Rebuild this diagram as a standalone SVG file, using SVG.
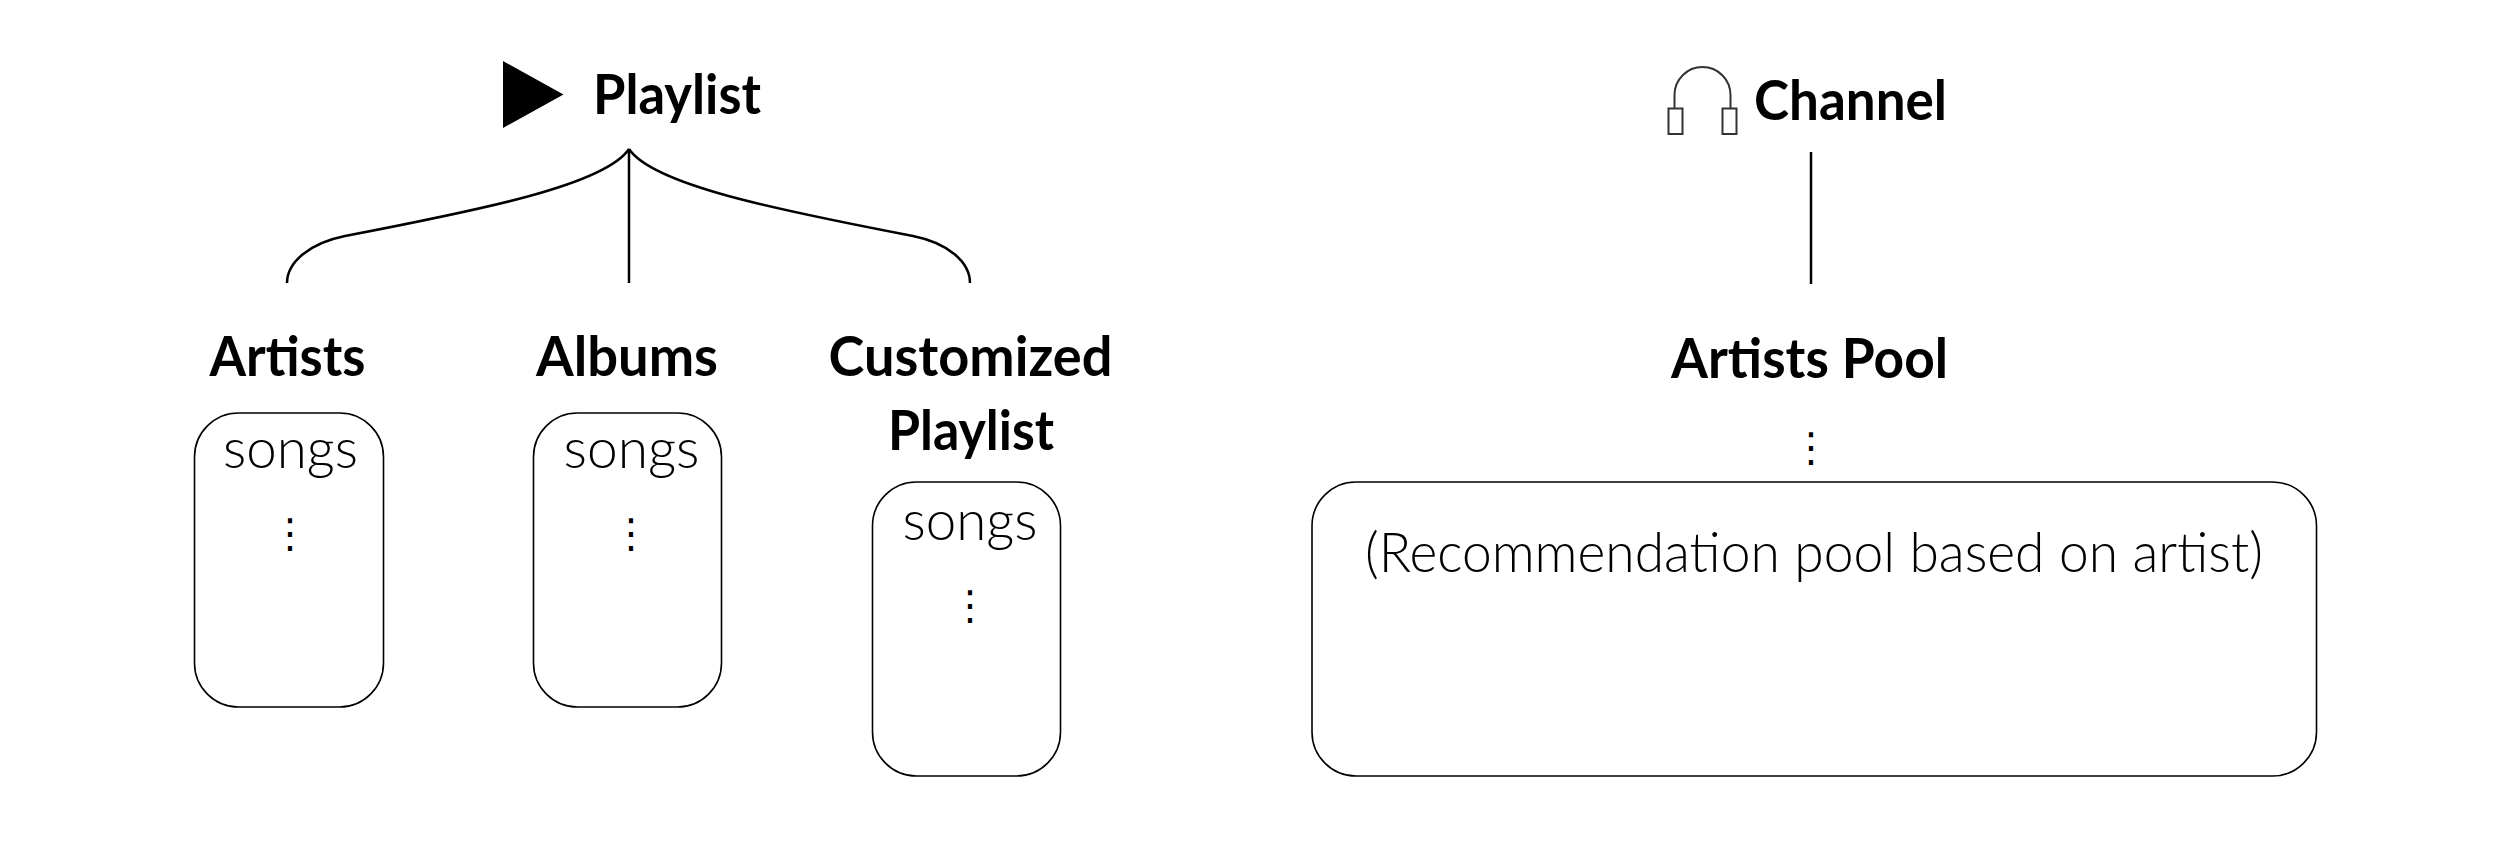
<svg xmlns="http://www.w3.org/2000/svg" width="2510" height="854" viewBox="0 0 2510 854">
<style>
text{fill:#000}
.h{font-family:"Lato","Liberation Sans",sans-serif;font-weight:700;font-size:55px}
.s{font-family:"Lato","Liberation Sans",sans-serif;font-weight:300;font-size:55px}
.d{font-family:"DejaVu Sans",sans-serif;font-size:40px;text-anchor:middle}
.b{fill:#fff;stroke:#000;stroke-width:1.6}
.c{fill:none;stroke:#000;stroke-width:2.500}
</style>
<rect width="2510" height="854" fill="#fff"/>
<g id="connectors">
<path class="c" d="M629 149C605 185 480 210 345 236C310 243 287 262 287 283"/>
<path class="c" d="M629 149V283"/>
<path class="c" d="M629 149C653 185 778 210 913 236C948 243 970 262 970 283"/>
<path class="c" d="M1811 152V284"/>
</g>
<g id="playlist">
<polygon points="503,61 563.500,94.500 503,128" fill="#000"/>
<text class="h" x="593" y="114" textLength="168" lengthAdjust="spacingAndGlyphs">Playlist</text>
</g>
<g id="channel">
<path d="M1674.500 108V95A28 28 0 0 1 1730.500 95V108" fill="none" stroke="#333" stroke-width="2"/>
<rect x="1668.500" y="108.500" width="14" height="25.500" fill="#fff" stroke="#333" stroke-width="2"/>
<rect x="1722.500" y="108.500" width="14" height="25.500" fill="#fff" stroke="#333" stroke-width="2"/>
<text class="h" x="1754" y="120" textLength="193" lengthAdjust="spacingAndGlyphs">Channel</text>
</g>
<g id="artists">
<text class="h" x="209.500" y="376" textLength="156" lengthAdjust="spacingAndGlyphs">Artists</text>
<rect class="b" x="194.500" y="413" width="189" height="294" rx="44" ry="44"/>
<text class="s" x="223" y="468" textLength="135" lengthAdjust="spacingAndGlyphs">songs</text>
<text class="d" x="290" y="547">⋮</text>
</g>
<g id="albums">
<text class="h" x="536" y="376" textLength="182" lengthAdjust="spacingAndGlyphs">Albums</text>
<rect class="b" x="533.500" y="413" width="188" height="294" rx="44" ry="44"/>
<text class="s" x="563.500" y="468" textLength="136" lengthAdjust="spacingAndGlyphs">songs</text>
<text class="d" x="631" y="547">⋮</text>
</g>
<g id="customized">
<text class="h" x="828.500" y="376" textLength="284" lengthAdjust="spacingAndGlyphs">Customized</text>
<text class="h" x="888" y="449.500" textLength="166" lengthAdjust="spacingAndGlyphs">Playlist</text>
<rect class="b" x="872.500" y="482" width="188" height="294" rx="44" ry="44"/>
<text class="s" x="902.500" y="540" textLength="135" lengthAdjust="spacingAndGlyphs">songs</text>
<text class="d" x="970" y="619">⋮</text>
</g>
<g id="artists-pool">
<text class="h" x="1671" y="378" textLength="277" lengthAdjust="spacingAndGlyphs">Artists Pool</text>
<text class="d" x="1811" y="461">⋮</text>
<rect class="b" x="1312" y="482" width="1004.500" height="294" rx="44" ry="44"/>
<text class="s" x="1365" y="571.500" textLength="898" lengthAdjust="spacingAndGlyphs">(Recommendation pool based on artist)</text>
</g>
</svg>
